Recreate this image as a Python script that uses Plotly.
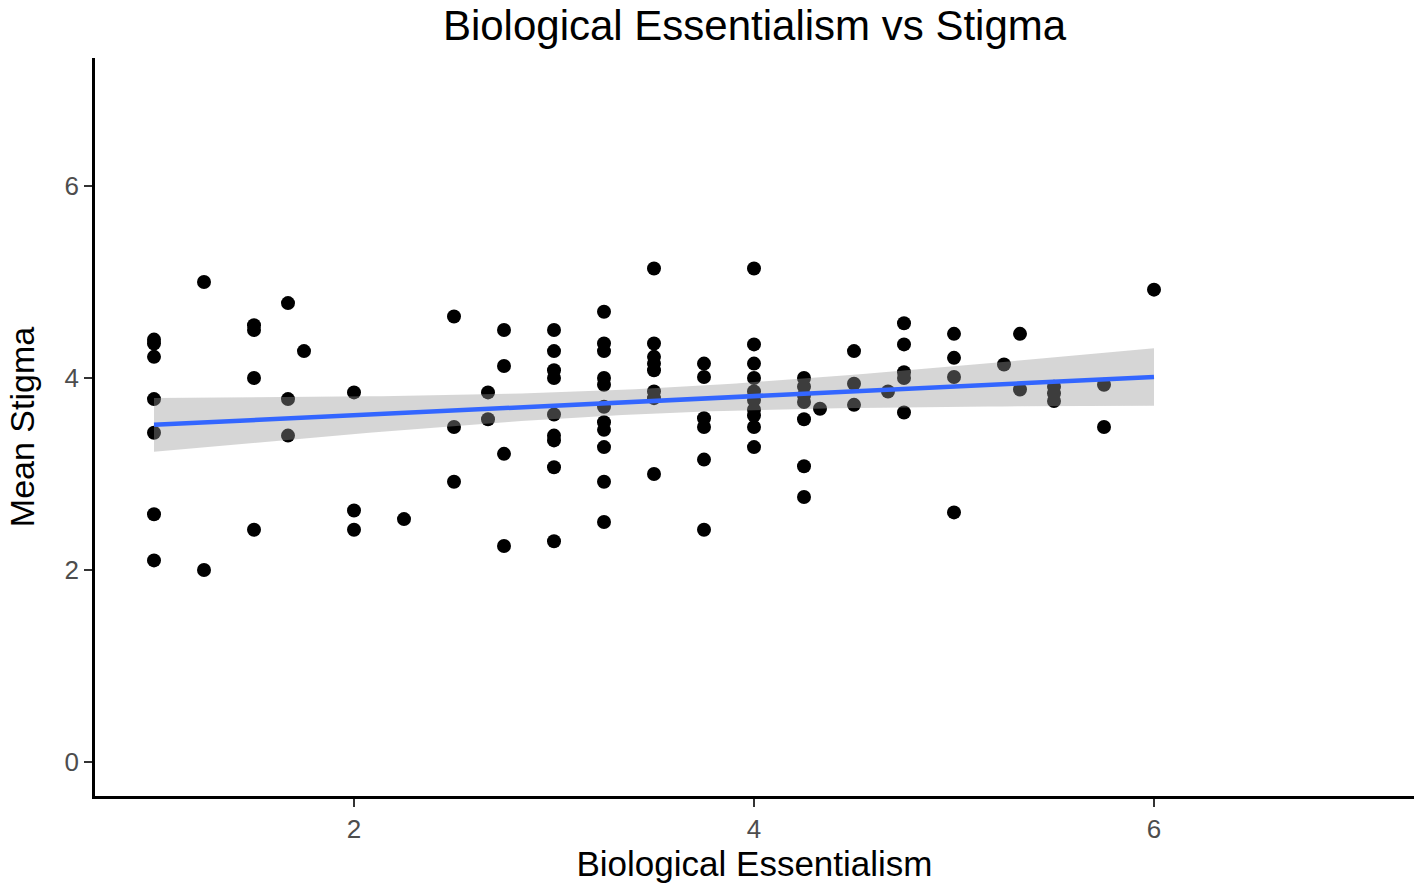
import numpy as np
import plotly.graph_objects as go

# Data: Biological Essentialism (x) vs Mean Stigma (y)
essentialism = (
    [1.0] * 7 + [1.25] * 2 + [1.5] * 4 + [1.67] * 3 + [1.75] * 1 + [2.0] * 3 +
    [2.25] * 1 + [2.5] * 3 + [2.67] * 2 + [2.75] * 4 + [3.0] * 9 + [3.25] * 11 +
    [3.5] * 8 + [3.75] * 6 + [4.0] * 10 + [4.25] * 7 + [4.33] * 1 + [4.5] * 3 +
    [4.67] * 1 + [4.75] * 5 + [5.0] * 4 + [5.25] * 1 + [5.33] * 2 + [5.5] * 3 +
    [5.75] * 2 + [6.0] * 1
)
stigma = [
    4.40, 4.36, 4.22, 3.78, 3.43, 2.58, 2.10,          # 1.0
    5.00, 2.00,                                        # 1.25
    4.55, 4.50, 4.00, 2.42,                            # 1.5
    4.78, 3.78, 3.40,                                  # 1.67
    4.28,                                              # 1.75
    3.85, 2.62, 2.42,                                  # 2.0
    2.53,                                              # 2.25
    4.64, 3.49, 2.92,                                  # 2.5
    3.85, 3.57,                                        # 2.67
    4.50, 4.125, 3.21, 2.25,                           # 2.75
    4.50, 4.28, 4.08, 4.00, 3.62, 3.40, 3.35, 3.07, 2.30,   # 3.0
    4.69, 4.36, 4.28, 4.00, 3.93, 3.70, 3.54, 3.46, 3.28, 2.92, 2.50,  # 3.25
    5.14, 4.36, 4.22, 4.15, 4.08, 3.86, 3.79, 3.00,    # 3.5
    4.15, 4.01, 3.58, 3.49, 3.15, 2.42,                # 3.75
    5.14, 4.35, 4.15, 4.00, 3.86, 3.77, 3.67, 3.61, 3.49, 3.28,  # 4.0
    4.00, 3.91, 3.82, 3.75, 3.57, 3.08, 2.76,          # 4.25
    3.68,                                              # 4.33
    4.28, 3.94, 3.72,                                  # 4.5
    3.86,                                              # 4.67
    4.57, 4.35, 4.06, 4.00, 3.64,                      # 4.75
    4.46, 4.21, 4.01, 2.60,                            # 5.0
    4.14,                                              # 5.25
    4.46, 3.88,                                        # 5.33
    3.91, 3.84, 3.76,                                  # 5.5
    3.93, 3.49,                                        # 5.75
    4.92,                                              # 6.0
]

title_text = "Biological Essentialism vs Stigma"
x_title = "Biological Essentialism"
y_title = "Mean Stigma"
x_ticks = [2, 4, 6]
y_ticks = [0, 2, 4, 6]

# Linear fit with 95% confidence band (like geom_smooth(method = "lm"))
x = np.array(essentialism, dtype=float)
y = np.array(stigma, dtype=float)
n = len(x)
slope, intercept = np.polyfit(x, y, 1)
resid = y - (intercept + slope * x)
s = np.sqrt(np.sum(resid ** 2) / (n - 2))
xg = np.linspace(x.min(), x.max(), 80)
yg = intercept + slope * xg
se = s * np.sqrt(1.0 / n + (xg - x.mean()) ** 2 / np.sum((x - x.mean()) ** 2))
tcrit = 1.984
lo = yg - tcrit * se
hi = yg + tcrit * se

FONT = "Liberation Sans, Arial, Helvetica, sans-serif"

fig = go.Figure()
fig.add_trace(go.Scatter(
    x=essentialism, y=stigma, mode="markers",
    marker=dict(color="black", size=14, line=dict(width=0)),
    hoverinfo="x+y", showlegend=False,
))
fig.add_trace(go.Scatter(
    x=xg, y=lo, mode="lines", line=dict(width=0, color="rgba(0,0,0,0)"),
    hoverinfo="skip", showlegend=False,
))
fig.add_trace(go.Scatter(
    x=xg, y=hi, mode="lines", line=dict(width=0, color="rgba(0,0,0,0)"),
    fill="tonexty", fillcolor="rgba(153,153,153,0.4)",
    hoverinfo="skip", showlegend=False,
))
fig.add_trace(go.Scatter(
    x=xg, y=yg, mode="lines", line=dict(color="#3366FF", width=4.5),
    hoverinfo="skip", showlegend=False,
))

fig.update_layout(
    width=1416, height=883,
    margin=dict(l=95, r=2, t=58, b=87),
    paper_bgcolor="white", plot_bgcolor="white",
    font=dict(family=FONT, color="black"),
    title=dict(text=title_text, x=0.5, xref="paper", xanchor="center",
               y=1 - 25 / 883, yref="container", yanchor="middle",
               font=dict(size=42, family=FONT, color="black")),
)
fig.update_xaxes(
    range=[0.705, 7.3], tickvals=x_ticks, ticktext=[str(v) for v in x_ticks],
    showgrid=False, zeroline=False,
    showline=True, linecolor="black", linewidth=2.5,
    ticks="outside", ticklen=8, tickwidth=2, tickcolor="#333333",
    tickfont=dict(size=26, color="#4d4d4d", family=FONT),
    title=dict(text=x_title, font=dict(size=35, color="black", family=FONT), standoff=8),
)
fig.update_yaxes(
    range=[-0.354, 7.333], tickvals=y_ticks, ticktext=[str(v) for v in y_ticks],
    showgrid=False, zeroline=False,
    showline=True, linecolor="black", linewidth=2.5,
    ticks="outside", ticklen=8, tickwidth=2, tickcolor="#333333",
    tickfont=dict(size=26, color="#4d4d4d", family=FONT),
    title=dict(text=y_title, font=dict(size=34, color="black", family=FONT), standoff=20),
)

fig.write_html(
    "out.html",
    config={"displayModeBar": False},
    post_script="document.body.style.margin='0';document.body.style.overflow='hidden';",
)
